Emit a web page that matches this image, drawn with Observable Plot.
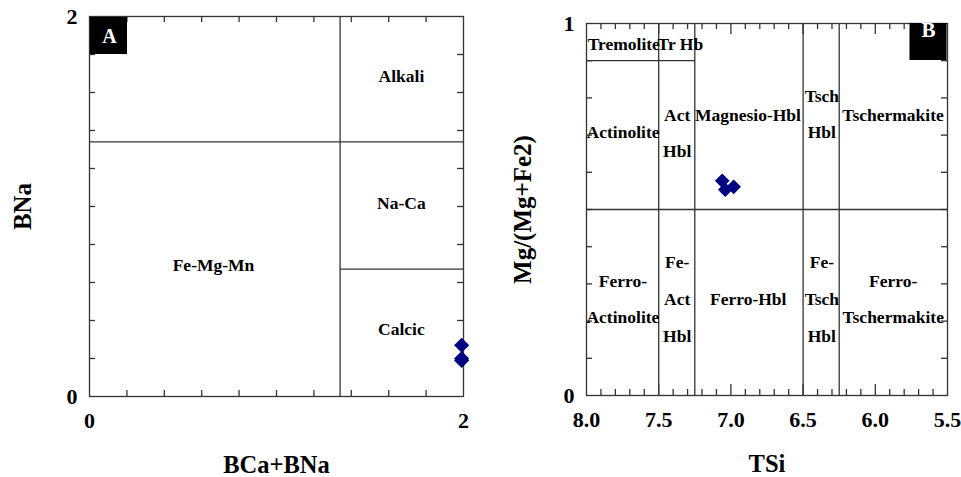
<!DOCTYPE html>
<html><head><meta charset="utf-8">
<script src="https://cdn.jsdelivr.net/npm/d3@7"></script>
<script src="https://cdn.jsdelivr.net/npm/@observablehq/plot@0.6"></script>
<style>
html,body{margin:0;padding:0;background:#fff;}
#wrap{display:flex;width:961px;height:477px;overflow:hidden;}
#wrap svg{display:block;}
</style></head><body><div id="wrap"></div>
<script>
const FONT = "Liberation Serif, DejaVu Serif, serif";

// ---------- Panel A data ----------
const boundariesA = [
  {x1: 1.34, y1: 0, x2: 1.34, y2: 2},
  {x1: 0, y1: 1.34, x2: 2, y2: 1.34},
  {x1: 1.34, y1: 0.67, x2: 2, y2: 0.67}
];
const regionLabelsA = [
  {text: "Alkali", x: 1.668, y: 1.684},
  {text: "Na-Ca", x: 1.668, y: 1.016},
  {text: "Fe-Mg-Mn", x: 0.663, y: 0.689},
  {text: "Calcic", x: 1.668, y: 0.353}
];
const samplesA_x = [1.99, 1.99, 1.99];
const samplesA_y = [0.27, 0.19, 0.20];
const xTicksA = [0.2, 0.4, 0.6, 0.8, 1.0, 1.2, 1.4, 1.6, 1.8];
const yTicksA = [0.2, 0.4, 0.6, 0.8, 1.0, 1.2, 1.4, 1.6, 1.8];
const xTickLabelsA = [0, 2];
const yTickLabelsA = [0, 2];

// ---------- Panel B data ----------
const boundariesB = [
  {x1: 7.5, y1: 0, x2: 7.5, y2: 1},
  {x1: 7.25, y1: 0, x2: 7.25, y2: 1},
  {x1: 6.5, y1: 0, x2: 6.5, y2: 1},
  {x1: 6.25, y1: 0, x2: 6.25, y2: 1},
  {x1: 8.0, y1: 0.5, x2: 5.5, y2: 0.5},
  {x1: 8.0, y1: 0.9, x2: 7.25, y2: 0.9}
];
const regionLabelsB = [
  {text: "Tremolite", x: 7.742, y: 0.943},
  {text: "Tr Hb", x: 7.35, y: 0.943},
  {text: "Actinolite", x: 7.747, y: 0.706},
  {text: "Act", x: 7.372, y: 0.754},
  {text: "Hbl", x: 7.372, y: 0.657},
  {text: "Magnesio-Hbl", x: 6.882, y: 0.754},
  {text: "Tsch", x: 6.37, y: 0.805},
  {text: "Hbl", x: 6.37, y: 0.707},
  {text: "Tschermakite", x: 5.877, y: 0.754},
  {text: "Ferro-", x: 7.748, y: 0.308},
  {text: "Actinolite", x: 7.748, y: 0.209},
  {text: "Fe-", x: 7.372, y: 0.357},
  {text: "Act", x: 7.372, y: 0.259},
  {text: "Hbl", x: 7.372, y: 0.16},
  {text: "Ferro-Hbl", x: 6.88, y: 0.259},
  {text: "Fe-", x: 6.37, y: 0.357},
  {text: "Tsch", x: 6.37, y: 0.259},
  {text: "Hbl", x: 6.37, y: 0.16},
  {text: "Ferro-", x: 5.876, y: 0.308},
  {text: "Tschermakite", x: 5.876, y: 0.209}
];
const samplesB_x = [7.06, 6.981, 7.039];
const samplesB_y = [0.577, 0.561, 0.553];
const xMinorTicksB = [7.9, 7.8, 7.7, 7.6, 7.4, 7.3, 7.2, 7.1, 6.9, 6.8, 6.7, 6.6, 6.4, 6.3, 6.2, 6.1, 5.9, 5.8, 5.7, 5.6];
const xMajorTicksB = [7.5, 7.0, 6.5, 6.0];
const yTicksB = [0.1, 0.2, 0.3, 0.4, 0.5, 0.6, 0.7, 0.8, 0.9];
const xTickLabelsB = [8.0, 7.5, 7.0, 6.5, 6.0, 5.5];
const yTickLabelsB = [0, 1];

// ---------- shared style ----------
const H = 477;
const LINE = {stroke: "#333", strokeWidth: 1.3};
const POINT_COLOR = "#000080";
const TXT = {fontWeight: "bold", fill: "#000", fontFamily: FONT};

function ticks(arr, axis, side, inner, len) {
  const o = {...LINE};
  if (axis === "x") {
    o.x = d => d;
    if (side === "bottom") o.insetTop = inner - len; else o.insetBottom = inner - len;
    return Plot.tickX(arr, o);
  } else {
    o.y = d => d;
    if (side === "left") o.insetRight = inner - len; else o.insetLeft = inner - len;
    return Plot.tickY(arr, o);
  }
}

// ---------- Panel A ----------
const mA = {top: 16, right: 17, bottom: 81, left: 89};
const WA = 480;
const ihA = H - mA.top - mA.bottom, iwA = WA - mA.left - mA.right;
const pointsA = samplesA_x.map((x, i) => ({x, y: samplesA_y[i]}));

const plotA = Plot.plot({
  width: WA, height: H,
  marginTop: mA.top, marginRight: mA.right, marginBottom: mA.bottom, marginLeft: mA.left,
  x: {domain: [0, 2]}, y: {domain: [0, 2]},
  style: {background: "white", overflow: "visible"},
  marks: [
    ticks(xTicksA, "x", "bottom", ihA, 6),
    ticks(xTicksA, "x", "top", ihA, 6),
    ticks(yTicksA, "y", "left", iwA, 6),
    ticks(yTicksA, "y", "right", iwA, 6),
    Plot.link(boundariesA, {x1: "x1", y1: "y1", x2: "x2", y2: "y2", ...LINE}),
    Plot.frame(LINE),
    Plot.text(regionLabelsA, {x: "x", y: "y", text: "text", fontSize: 17.5, ...TXT}),
    Plot.dot(["A"], {frameAnchor: "top-left", dx: 19, dy: 19, symbol: "square", r: 20.9, fill: "#000"}),
    Plot.text(["A"], {frameAnchor: "top-left", dx: 20, dy: 20, textAnchor: "middle", lineAnchor: "middle", fontSize: 20, ...TXT, fill: "#fff"}),
    Plot.dot(pointsA, {x: "x", y: "y", symbol: "diamond2", r: 6.8, fill: POINT_COLOR}),
    Plot.axisX(xTickLabelsA, {tickSize: 0, tickPadding: 16, fontSize: 22, ...TXT, label: null, tickFormat: d => String(d)}),
    Plot.axisY(yTickLabelsA, {tickSize: 0, tickPadding: 12, fontSize: 22, ...TXT, label: null, tickFormat: d => String(d)}),
    Plot.text(["BCa+BNa"], {frameAnchor: "bottom", dy: 76, textAnchor: "middle", lineAnchor: "bottom", fontSize: 24.5, ...TXT}),
    Plot.text(["BNa"], {frameAnchor: "left", dx: -67, rotate: -90, textAnchor: "middle", lineAnchor: "middle", fontSize: 25, ...TXT})
  ]
});

// ---------- Panel B ----------
const mB = {top: 23, right: 14, bottom: 82, left: 106};
const WB = 481;
const ihB = H - mB.top - mB.bottom, iwB = WB - mB.left - mB.right;
const pointsB = samplesB_x.map((x, i) => ({x, y: samplesB_y[i]}));

const plotB = Plot.plot({
  width: WB, height: H,
  marginTop: mB.top, marginRight: mB.right, marginBottom: mB.bottom, marginLeft: mB.left,
  x: {domain: [8, 5.5]}, y: {domain: [0, 1]},
  style: {background: "white", overflow: "visible"},
  marks: [
    ticks(xMinorTicksB, "x", "bottom", ihB, 6),
    ticks(xMinorTicksB, "x", "top", ihB, 6),
    ticks(xMajorTicksB, "x", "bottom", ihB, 11),
    ticks(xMajorTicksB, "x", "top", ihB, 11),
    ticks(yTicksB, "y", "left", iwB, 6),
    ticks(yTicksB, "y", "right", iwB, 6),
    Plot.link(boundariesB, {x1: "x1", y1: "y1", x2: "x2", y2: "y2", ...LINE}),
    Plot.frame(LINE),
    Plot.text(regionLabelsB, {x: "x", y: "y", text: "text", fontSize: 17.5, ...TXT}),
    Plot.dot(["B"], {frameAnchor: "top-right", dx: -19.5, dy: 18, symbol: "square", r: 20.9, fill: "#000"}),
    Plot.text(["B"], {frameAnchor: "top-right", dx: -19, dy: 7, textAnchor: "middle", lineAnchor: "middle", fontSize: 21, ...TXT, fill: "#fff"}),
    Plot.dot(pointsB, {x: "x", y: "y", symbol: "diamond2", r: 6.6, fill: POINT_COLOR}),
    Plot.axisX(xTickLabelsB, {tickSize: 0, tickPadding: 16, fontSize: 22, ...TXT, label: null, tickFormat: d3.format(".1f")}),
    Plot.axisY(yTickLabelsB, {tickSize: 0, tickPadding: 12, fontSize: 22, ...TXT, label: null, tickFormat: d => String(d)}),
    Plot.text(["TSi"], {frameAnchor: "bottom", dy: 76, textAnchor: "middle", lineAnchor: "bottom", fontSize: 24.5, ...TXT}),
    Plot.text(["Mg/(Mg+Fe2)"], {frameAnchor: "left", dx: -64, rotate: -90, textAnchor: "middle", lineAnchor: "middle", fontSize: 25, ...TXT})
  ]
});

const wrap = document.getElementById("wrap");
wrap.appendChild(plotA);
wrap.appendChild(plotB);
</script>
</body></html>
